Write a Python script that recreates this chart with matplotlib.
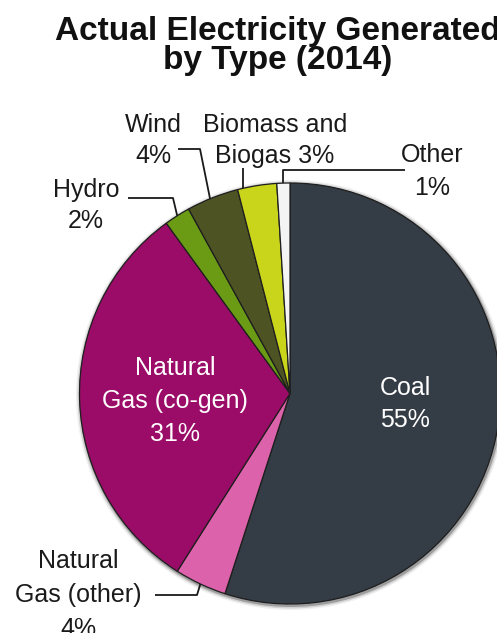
import matplotlib.pyplot as plt
from matplotlib.patches import Circle

W, H = 497, 633

sources = ['Coal', 'Natural Gas (other)', 'Natural Gas (co-gen)', 'Hydro',
           'Wind', 'Biomass and Biogas', 'Other']
shares = [55, 4, 31, 2, 4, 3, 1]
colors = ['#343c45', '#db62ab', '#9b0b68', '#6b9b15', '#4e5324', '#c8d51a', '#f4f4f4']
label_lines = [['Coal', '55%'],
               ['Natural', 'Gas (other)', '4%'],
               ['Natural', 'Gas (co-gen)', '31%'],
               ['Hydro', '2%'],
               ['Wind', '4%'],
               ['Biomass and', 'Biogas 3%'],
               ['Other', '1%']]

# label placement in picture pixels (x centre, first baseline, line step)
label_pos = [(405, 395, 32), (78, 568, 34), (175, 375, 33), (86, 197, 31),
             (153, 132, 31), (275, 132, 31), (432, 162, 33)]
inside = [True, False, True, False, False, False, False]

plt.rcParams['font.family'] = ['Liberation Sans', 'DejaVu Sans']

fig = plt.figure(figsize=(W / 100, H / 100), dpi=100)
ax = fig.add_axes([0, 0, 1, 1])

cx, cy, r = 290, H - 393.5, 210.5

# soft rim shadow
for k, a in [(4.5, 0.06), (3, 0.12), (1.5, 0.25)]:
    ax.add_patch(Circle((cx + 1, cy - 1.5), r + k, color='black', alpha=a, lw=0, zorder=0))

wedges, _ = ax.pie(shares, colors=colors, startangle=90, counterclock=False,
                   center=(cx, cy), radius=r,
                   wedgeprops=dict(edgecolor='#1e1e1e', linewidth=0.9))
ax.set_xlim(0, W)
ax.set_ylim(0, H)
ax.set_aspect('equal')
ax.axis('off')


def rim(wedge, t=0.5, f=1.0):
    import numpy as np
    ang = np.deg2rad(wedge.theta1 + t * (wedge.theta2 - wedge.theta1))
    return cx + f * r * np.cos(ang), cy + f * r * np.sin(ang)


for lines, (x, y0, step), ins in zip(label_lines, label_pos, inside):
    for i, s in enumerate(lines):
        ax.text(x, H - (y0 + i * step), s, ha='center', va='baseline',
                fontsize=18, color='white' if ins else '#1a1a1a')

# leader lines (start/elbow in picture pixels, end on the wedge rim)
lc = dict(color='#1a1a1a', lw=1.3, solid_capstyle='butt')
px, py = rim(wedges[3], 0.5)
ax.plot([128, 173, px], [H - 198, H - 198, py], **lc)
px, py = rim(wedges[4], 0.55)
ax.plot([178, 200, px], [H - 149, H - 149, py], **lc)
px, py = rim(wedges[5], 0.85)
ax.plot([px, px], [H - 168, py], **lc)
px, py = rim(wedges[6], 0.5)
ax.plot([405, px, px], [H - 170, H - 170, py], **lc)
px, py = rim(wedges[1], 0.5)
ax.plot([155, 197, px], [H - 595, H - 595, py], **lc)

ax.text(278, H - 40, 'Actual Electricity Generated', ha='center', va='baseline',
        fontsize=24, fontweight='bold', color='#111111')
ax.text(278, H - 69, 'by Type (2014)', ha='center', va='baseline',
        fontsize=24, fontweight='bold', color='#111111')

fig.savefig('out.png', dpi=100, facecolor='white')
